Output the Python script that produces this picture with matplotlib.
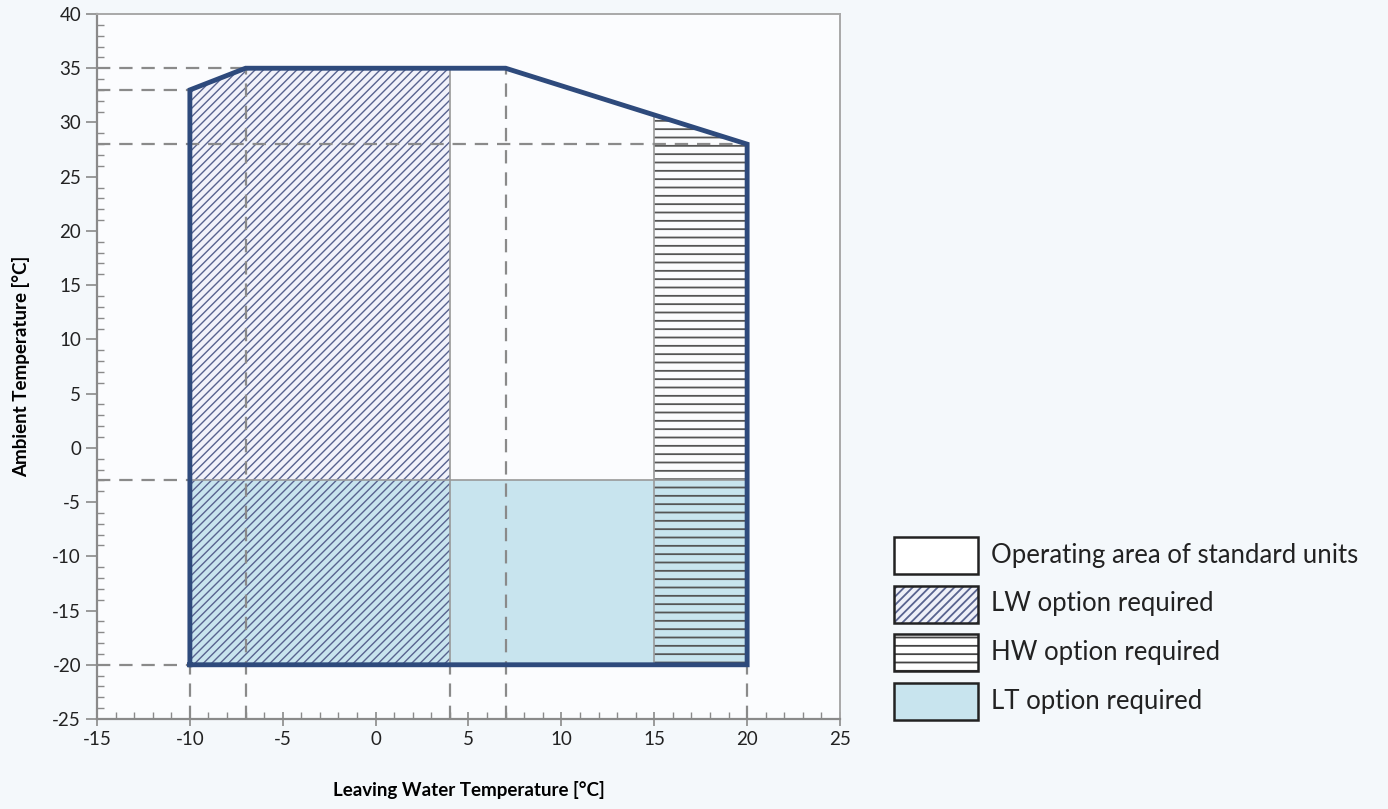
import numpy as np
import matplotlib.pyplot as plt
from matplotlib.patches import Polygon, Rectangle

plt.rcParams['font.family'] = ['Lato', 'DejaVu Sans']
plt.rcParams['axes.unicode_minus'] = False

# envelope of the operating map
env_x = [-10, -10, -7, 7, 20, 20]
env_y = [-20, 33, 35, 35, 28, -20]

# option limits
lw_x_max = 4      # LW option below this leaving water temp
hw_x_min = 15     # HW option above this leaving water temp
lt_y_max = -3     # LT option below this ambient temp

# dashed guide lines
guide_h = [35, 33, 28, -3, -20]
guide_v = [-10, -7, 4, 7, 20]

legend_labels = ["Operating area of standard units", "LW option required",
                 "HW option required", "LT option required"]

blue = '#2e4a7c'
lt_blue = '#c8e4ee'
grey = '#8a8a8a'
lw_hatch = '#58638f'

fig = plt.figure(figsize=(13.88, 8.09), dpi=100, facecolor='#f4f8fb')
ax = fig.add_axes([97/1388, 1-719/809, (840-97)/1388, (719-14)/809])
ax.set_facecolor('#fbfcfe')

ymin, ymax = min(env_y), max(env_y)
xl, xr = min(env_x), max(env_x)

# LT region
ax.add_patch(Rectangle((xl, ymin), xr - xl, lt_y_max - ymin,
                       facecolor=lt_blue, edgecolor='none', zorder=1))

# LW region (hatched)
plt.rcParams['hatch.linewidth'] = 1.0
y_lw = np.interp(lw_x_max, env_x[1:5], env_y[1:5])
lw_pts = [(xl, ymin), (xl, env_y[1]), (env_x[2], env_y[2]), (lw_x_max, y_lw), (lw_x_max, ymin)]
ax.add_patch(Polygon(lw_pts, closed=True, facecolor='#f1f2fa', edgecolor='none', zorder=0.9))
ax.add_patch(Rectangle((xl, ymin), lw_x_max - xl, lt_y_max - ymin,
                       facecolor=lt_blue, edgecolor='none', zorder=1))
ax.add_patch(Polygon(lw_pts, closed=True, facecolor='none', edgecolor=lw_hatch,
                     hatch='////', lw=0, zorder=2))

# HW region (horizontal lines)
plt.rcParams['hatch.linewidth'] = 1.3
y_hw = np.interp(hw_x_min, env_x[1:5], env_y[1:5])
hw_pts = [(hw_x_min, ymin), (hw_x_min, y_hw), (xr, env_y[4]), (xr, ymin)]
ax.add_patch(Polygon(hw_pts, closed=True, facecolor='none', edgecolor='#555555',
                     hatch='--', lw=0, zorder=2))

# thin region borders
ax.plot([xl, xr], [lt_y_max, lt_y_max], color='#999999', lw=1.2, zorder=3)
ax.plot([lw_x_max, lw_x_max], [ymin, y_lw], color='#999999', lw=1.2, zorder=3)
ax.plot([hw_x_min, hw_x_min], [ymin, y_hw], color='#999999', lw=1.2, zorder=3)

# dashed guides
dash = dict(color=grey, lw=1.6, ls=(0, (6, 4)), zorder=3.5)
for y in guide_h:
    xe = xr if y == 28 else np.interp(y, [env_y[1], env_y[2]], [env_x[1], env_x[2]]) if y > env_y[1] else xl
    ax.plot([-15, xe], [y, y], **dash)
for x in guide_v:
    ye = env_y[2] if x in (-7, 7) else ymin
    ax.plot([x, x], [-25, ye], **dash)

# envelope
ax.plot(env_x + [env_x[0]], env_y + [env_y[0]], color=blue, lw=3.5,
        solid_joinstyle='miter', zorder=5)

ax.set_xlim(-15, 25)
ax.set_ylim(-25, 40)
ax.set_xticks(np.arange(-15, 26, 5))
ax.set_yticks(np.arange(-25, 41, 5))
ax.set_xticks(np.arange(-15, 26, 1), minor=True)
ax.set_yticks(np.arange(-25, 41, 1), minor=True)
ax.tick_params(which='major', direction='inout', length=10, width=1.2, color=grey,
               labelsize=13.5, labelcolor='#222222')
ax.tick_params(which='minor', direction='in', length=5, width=1, color=grey)
ax.tick_params(axis='y', which='major', direction='out', length=8)
ax.tick_params(top=False, right=False, which='both')
for s in ['left', 'bottom']:
    ax.spines[s].set_color(grey)
    ax.spines[s].set_linewidth(1.6)
for s in ['top', 'right']:
    ax.spines[s].set_color('#a8a8a8')
    ax.spines[s].set_linewidth(1.4)

ax.set_xlabel('Leaving Water Temperature [°C]', fontsize=13.5, fontweight='bold', labelpad=24)
ax.set_ylabel('Ambient Temperature [°C]', fontsize=13.5, fontweight='bold', labelpad=16)

# legend drawn in pixel coordinates
lg = fig.add_axes([0, 0, 1, 1])
lg.set_xlim(0, 1388)
lg.set_ylim(809, 0)
lg.axis('off')
styles = [dict(fc='white', hatch=None, hc='none'),
          dict(fc='#eef0f8', hatch='////', hc=lw_hatch),
          dict(fc='white', hatch='--', hc='#444444'),
          dict(fc=lt_blue, hatch=None, hc='none')]
for i, (lab, st) in enumerate(zip(legend_labels, styles)):
    y0 = 537 + i * 48.5
    lg.add_patch(Rectangle((894, y0), 84, 37, facecolor=st['fc'], edgecolor='none'))
    if st['hatch']:
        lg.add_patch(Rectangle((894, y0), 84, 37, facecolor='none', edgecolor=st['hc'],
                               hatch=st['hatch'], lw=0))
    lg.add_patch(Rectangle((894, y0), 84, 37, facecolor='none', edgecolor='#222222', lw=1.8))
    lg.text(991, y0 + 18.5, lab, fontsize=18.5, va='center', ha='left', color='#222222')

fig.savefig('out.png', dpi=100, facecolor=fig.get_facecolor())
